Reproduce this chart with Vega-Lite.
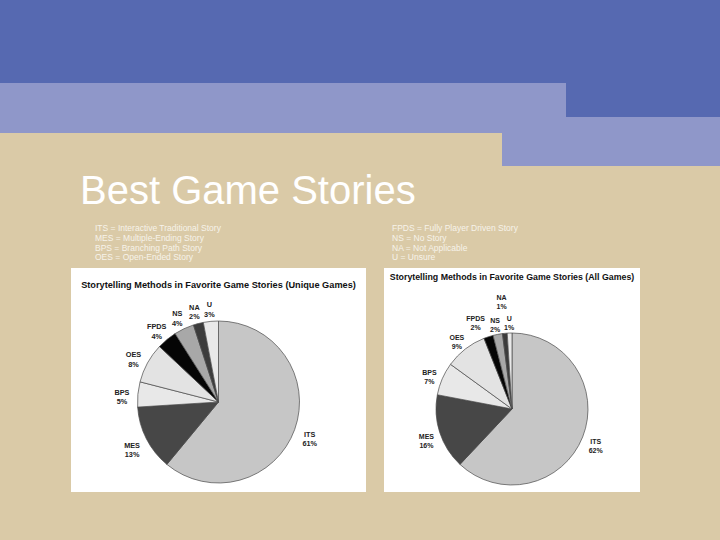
{
  "$schema": "https://vega.github.io/schema/vega-lite/v6.json",
  "background": "#dacaa7",
  "padding": 0,
  "config": {
    "view": {"stroke": null},
    "concat": {"spacing": 0},
    "font": "Liberation Sans",
    "title": {"font": "Liberation Sans"}
  },
  "datasets": {
    "unique": [
      {"method": "ITS", "pct": 61, "rank": 1, "label": "ITS\n61%"},
      {"method": "MES", "pct": 13, "rank": 2, "label": "MES\n13%"},
      {"method": "BPS", "pct": 5, "rank": 3, "label": "BPS\n5%"},
      {"method": "OES", "pct": 8, "rank": 4, "label": "OES\n8%"},
      {"method": "FPDS", "pct": 4, "rank": 5, "label": "FPDS\n4%"},
      {"method": "NS", "pct": 4, "rank": 6, "label": "NS\n4%"},
      {"method": "NA", "pct": 2, "rank": 7, "label": "NA\n2%"},
      {"method": "U", "pct": 3, "rank": 8, "label": "U\n3%"}
    ],
    "all": [
      {"method": "ITS", "pct": 62, "rank": 1, "label": "ITS\n62%"},
      {"method": "MES", "pct": 16, "rank": 2, "label": "MES\n16%"},
      {"method": "BPS", "pct": 7, "rank": 3, "label": "BPS\n7%"},
      {"method": "OES", "pct": 9, "rank": 4, "label": "OES\n9%"},
      {"method": "FPDS", "pct": 2, "rank": 5, "label": "FPDS\n2%"},
      {"method": "NS", "pct": 2, "rank": 6, "label": "NS\n2%"},
      {"method": "NA", "pct": 1, "rank": 7, "label": "NA\n1%"},
      {"method": "U", "pct": 1, "rank": 8, "label": "U\n1%"}
    ]
  },
  "vconcat": [
    {"data": {"values": []}, "mark": "point", "width": 720, "height": 83, "view": {"fill": "#5669b1"}},
    {
      "hconcat": [
        {"data": {"values": []}, "mark": "point", "width": 566, "height": 34, "view": {"fill": "#8f97c9"}},
        {"data": {"values": []}, "mark": "point", "width": 154, "height": 34, "view": {"fill": "#5669b1"}}
      ]
    },
    {"data": {"values": []}, "mark": "point", "width": 720, "height": 16, "view": {"fill": "#8f97c9"}},
    {
      "hconcat": [
        {"data": {"values": []}, "mark": "point", "width": 502, "height": 33},
        {"data": {"values": []}, "mark": "point", "width": 218, "height": 33, "view": {"fill": "#8f97c9"}}
      ]
    },
    {"data": {"values": []}, "mark": "point", "width": 720, "height": 6},
    {
      "title": {
        "text": "Best Game Stories",
        "anchor": "start",
        "dx": 80,
        "fontSize": 40,
        "fontWeight": "normal",
        "color": "#ffffff",
        "offset": 12
      },
      "hconcat": [
        {"data": {"values": []}, "mark": "point", "width": 71, "height": 1},
        {
          "title": {
            "text": ["ITS = Interactive Traditional Story", "MES = Multiple-Ending Story", "BPS = Branching Path Story", "OES = Open-Ended Story"],
            "anchor": "start",
            "dx": 24,
            "fontSize": 8.5,
            "lineHeight": 9.7,
            "fontWeight": "normal",
            "color": "#f7f3ea",
            "offset": 6
          },
          "bounds": "flush",
          "vconcat": [
            {
              "data": {"values": [{"t": "Storytelling Methods in Favorite Game Stories (Unique Games)"}]},
              "mark": {"type": "text", "fontWeight": "bold", "fontSize": 9.2, "dy": -5, "color": "#111111"},
              "encoding": {"text": {"field": "t"}},
              "width": 295,
              "height": 44,
              "view": {"fill": "#ffffff"}
            },
            {
              "data": {"name": "unique"},
              "width": 295,
              "height": 180,
              "view": {"fill": "#ffffff"},
              "encoding": {
                "theta": {"field": "pct", "type": "quantitative", "stack": true},
                "order": {"field": "rank", "type": "quantitative"},
                "color": {
                  "field": "method",
                  "type": "nominal",
                  "scale": {
                    "domain": ["ITS", "MES", "BPS", "OES", "FPDS", "NS", "NA", "U"],
                    "range": ["#c6c6c6", "#474747", "#e8e8e8", "#e3e3e3", "#050505", "#a8a8a8", "#3c3c3c", "#e9e9e9"]
                  },
                  "legend": null
                }
              },
              "layer": [
                {"mark": {"type": "arc", "outerRadius": 81, "stroke": "#4a4a4a", "strokeWidth": 0.7}},
                {
                  "mark": {"type": "text", "radius": 97, "lineBreak": "\n", "fontSize": 7.3, "fontWeight": "bold"},
                  "encoding": {"text": {"field": "label"}, "color": {"value": "#222222"}}
                }
              ]
            }
          ]
        },
        {"data": {"values": []}, "mark": "point", "width": 18, "height": 1},
        {
          "title": {
            "text": ["FPDS = Fully Player Driven Story", "NS = No Story", "NA = Not Applicable", "U = Unsure"],
            "anchor": "start",
            "dx": 8,
            "fontSize": 8.5,
            "lineHeight": 9.7,
            "fontWeight": "normal",
            "color": "#f7f3ea",
            "offset": 6
          },
          "bounds": "flush",
          "vconcat": [
            {
              "data": {"values": [{"t": "Storytelling Methods in Favorite Game Stories (All Games)"}]},
              "mark": {"type": "text", "fontWeight": "bold", "fontSize": 8.8, "dy": -20, "color": "#111111"},
              "encoding": {"text": {"field": "t"}},
              "width": 256,
              "height": 58,
              "view": {"fill": "#ffffff"}
            },
            {
              "data": {"name": "all"},
              "width": 256,
              "height": 166,
              "view": {"fill": "#ffffff"},
              "encoding": {
                "theta": {"field": "pct", "type": "quantitative", "stack": true},
                "order": {"field": "rank", "type": "quantitative"},
                "color": {
                  "field": "method",
                  "type": "nominal",
                  "scale": {
                    "domain": ["ITS", "MES", "BPS", "OES", "FPDS", "NS", "NA", "U"],
                    "range": ["#c6c6c6", "#474747", "#e8e8e8", "#e3e3e3", "#050505", "#a8a8a8", "#3c3c3c", "#e9e9e9"]
                  },
                  "legend": null
                }
              },
              "layer": [
                {"mark": {"type": "arc", "outerRadius": 76, "stroke": "#4a4a4a", "strokeWidth": 0.7}},
                {
                  "mark": {"type": "text", "radius": 90, "lineBreak": "\n", "fontSize": 7, "fontWeight": "bold"},
                  "encoding": {
                    "text": {"field": "label"},
                    "color": {"value": "#222222"},
                    "opacity": {"condition": {"test": "datum.method == 'NA' || datum.method == 'FPDS'", "value": 0}, "value": 1}
                  }
                },
                {
                  "mark": {"type": "text", "radius": 95, "dx": -7, "lineBreak": "\n", "fontSize": 7, "fontWeight": "bold"},
                  "encoding": {
                    "text": {"field": "label"},
                    "color": {"value": "#222222"},
                    "opacity": {"condition": {"test": "datum.method == 'FPDS'", "value": 1}, "value": 0}
                  }
                },
                {
                  "mark": {"type": "text", "radius": 111, "lineBreak": "\n", "fontSize": 7, "fontWeight": "bold"},
                  "encoding": {
                    "text": {"field": "label"},
                    "color": {"value": "#222222"},
                    "opacity": {"condition": {"test": "datum.method == 'NA'", "value": 1}, "value": 0}
                  }
                }
              ]
            }
          ]
        }
      ]
    },
    {"data": {"values": []}, "mark": "point", "width": 720, "height": 48}
  ]
}
